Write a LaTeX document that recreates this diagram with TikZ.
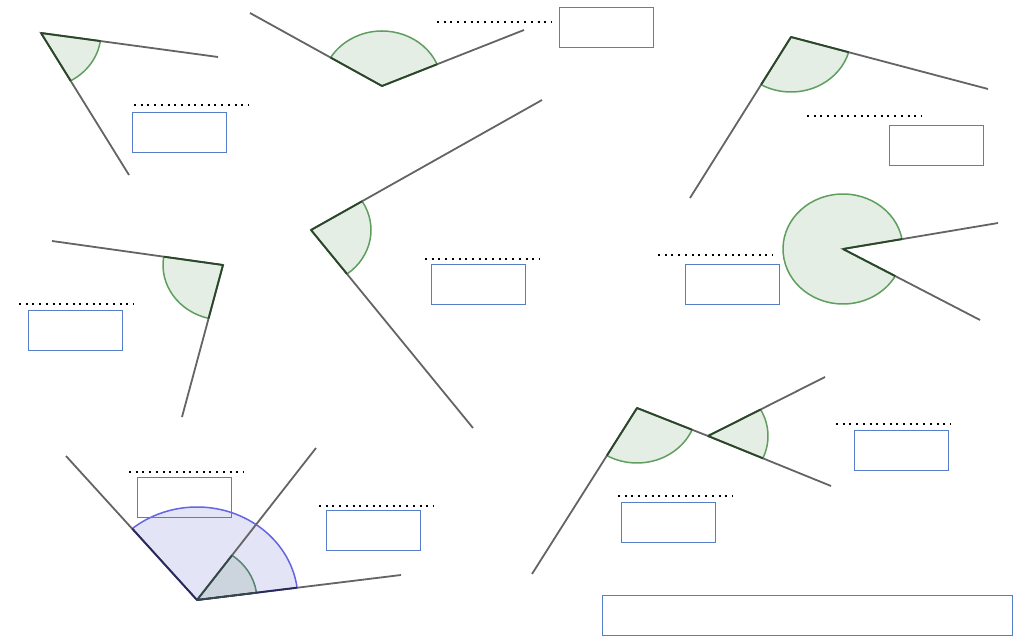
\documentclass[tikz,border=0pt]{standalone}
\usepackage{xcolor}
\usetikzlibrary{calc}

\definecolor{greenfill}{RGB}{228,238,228}
\definecolor{greenline}{RGB}{95,158,95}
\definecolor{greendark}{RGB}{40,72,40}
\definecolor{bluefill}{RGB}{228,228,247}
\definecolor{blueline}{RGB}{100,100,228}
\definecolor{bluedark}{RGB}{40,40,95}
\definecolor{mixfill}{RGB}{204,213,222}
\definecolor{mixline}{RGB}{85,132,112}
\definecolor{mixdark}{RGB}{50,72,72}
\definecolor{boxblue}{RGB}{85,125,200}
\definecolor{armgray}{RGB}{100,100,100}

% filled sector + arc, from arm #3 counter-clockwise to arm #4
\newcommand{\angfill}[6]{%
  \fill[#1fill] let \p1=($(#3)-(#2)$), \p2=($(#4)-(#2)$),
      \n1={atan2(\y1,\x1/1.09)}, \n2={atan2(\y2,\x2/1.09)},
      \n3={mod(\n2-\n1+720,360)} in
    (#2) -- ++(\n1:#5pt and #6pt)
    arc[start angle=\n1, delta angle=\n3, x radius=#5pt, y radius=#6pt] -- cycle;
  \draw[#1line, line width=1.5pt] let \p1=($(#3)-(#2)$), \p2=($(#4)-(#2)$),
      \n1={atan2(\y1,\x1/1.09)}, \n2={atan2(\y2,\x2/1.09)},
      \n3={mod(\n2-\n1+720,360)} in
    (#2) ++(\n1:#5pt and #6pt)
    arc[start angle=\n1, delta angle=\n3, x radius=#5pt, y radius=#6pt];}
% darker arm pieces inside the sector
\newcommand{\angrays}[6]{%
  \draw[#1dark, line width=1.8pt] let \p1=($(#3)-(#2)$), \p2=($(#4)-(#2)$),
      \n1={atan2(\y1,\x1/1.09)}, \n2={atan2(\y2,\x2/1.09)} in
    (#2) -- ++(\n1:#5pt and #6pt) (#2) -- ++(\n2:#5pt and #6pt);}

\begin{document}
\begin{tikzpicture}[x=1pt, y=-1pt,
  arm/.style={armgray, line width=1.8pt},
  ansbox/.style={draw=boxblue, line width=1.2pt, minimum width=94pt, minimum height=40pt, inner sep=0pt},
  dots/.style={line width=2pt, dash pattern=on 2pt off 4.7pt}]

  \useasboundingbox (0,0) rectangle (1020,636);

  % vertices and arm ends
  \coordinate (V1) at (41,33);   \coordinate (V1a) at (129,175); \coordinate (V1b) at (218,57);
  \coordinate (V2) at (382,86);  \coordinate (V2a) at (524,30);  \coordinate (V2b) at (250,13);
  \coordinate (V3) at (791,37);  \coordinate (V3a) at (690,198); \coordinate (V3b) at (988,89);
  \coordinate (V4) at (223,265); \coordinate (V4a) at (52,241);  \coordinate (V4b) at (182,417);
  \coordinate (V5) at (311,230); \coordinate (V5a) at (473,428); \coordinate (V5b) at (542,100);
  \coordinate (V6) at (843,249); \coordinate (V6a) at (998,223); \coordinate (V6b) at (980,320);
  \coordinate (P) at (637,408);  \coordinate (Pa) at (532,574);
  \coordinate (Q) at (708,436);  \coordinate (Qa) at (831,486);  \coordinate (Qb) at (825,377);
  \coordinate (O) at (197,600);  \coordinate (Or) at (401,575);  \coordinate (Om) at (316,448);
  \coordinate (Ol) at (66,456);

  % Draw the sectors
  \angfill{green}{V1}{V1a}{V1b}{60}{55}
  \angfill{green}{V2}{V2a}{V2b}{60}{55}
  \angfill{green}{V3}{V3a}{V3b}{60}{55}
  \angfill{green}{V4}{V4a}{V4b}{60}{55}
  \angfill{green}{V5}{V5a}{V5b}{60}{55}
  \angfill{green}{V6}{V6a}{V6b}{60}{55}
  \angfill{green}{P}{Pa}{Q}{60}{55}
  \angfill{green}{Q}{Qa}{Qb}{60}{55}
  \angfill{blue}{O}{Or}{Ol}{101}{93}
  \angfill{mix}{O}{Or}{Om}{60}{55}

  % Draw the arms
  \draw[arm] (V1b) -- (V1) -- (V1a);
  \draw[arm] (V2b) -- (V2) -- (V2a);
  \draw[arm] (V3b) -- (V3) -- (V3a);
  \draw[arm] (V4a) -- (V4) -- (V4b);
  \draw[arm] (V5b) -- (V5) -- (V5a);
  \draw[arm] (V6a) -- (V6) -- (V6b);
  \draw[arm] (Pa) -- (P) -- (Q) -- (Qa);
  \draw[arm] (Q) -- (Qb);
  \draw[arm] (Ol) -- (O) -- (Or);
  \draw[arm] (O) -- (Om);

  \angrays{green}{V1}{V1a}{V1b}{60}{55}
  \angrays{green}{V2}{V2a}{V2b}{60}{55}
  \angrays{green}{V3}{V3a}{V3b}{60}{55}
  \angrays{green}{V4}{V4a}{V4b}{60}{55}
  \angrays{green}{V5}{V5a}{V5b}{60}{55}
  \angrays{green}{V6}{V6a}{V6b}{60}{55}
  \angrays{green}{P}{Pa}{Q}{60}{55}
  \angrays{green}{Q}{Qa}{Qb}{60}{55}
  \angrays{blue}{O}{Or}{Ol}{101}{93}
  \angrays{mix}{O}{Or}{Om}{60}{55}

  % Answer lines and boxes
  \draw[dots] (134,105) -- (248,105);
  \node[ansbox] (box1) at (179.5,132.5) {};
  \draw[dots] (437,22.5) -- (551,22.5);
  \node[ansbox] (box2) at (606.5,27.5) {};
  \draw[dots] (807,116) -- (921,116);
  \node[ansbox] (box3) at (936.5,145.5) {};
  \draw[dots] (19,304) -- (133,304);
  \node[ansbox] (box4) at (75.5,330.5) {};
  \draw[dots] (425,259) -- (539,259);
  \node[ansbox] (box5) at (478.5,284.5) {};
  \draw[dots] (658,255) -- (772,255);
  \node[ansbox] (box6) at (732.5,284.5) {};
  \draw[dots] (836,424) -- (950,424);
  \node[ansbox] (box7) at (901.5,450.5) {};
  \draw[dots] (618,495.5) -- (732,495.5);
  \node[ansbox] (box8) at (668.5,522.5) {};
  \draw[dots] (129,472) -- (243,472);
  \node[ansbox] (box9) at (184.5,497.5) {};
  \draw[dots] (319,506) -- (433,506);
  \node[ansbox] (box10) at (373.5,530.5) {};
  \node[ansbox, minimum width=410pt] (total) at (807.5,615.5) {};

\end{tikzpicture}
\end{document}
